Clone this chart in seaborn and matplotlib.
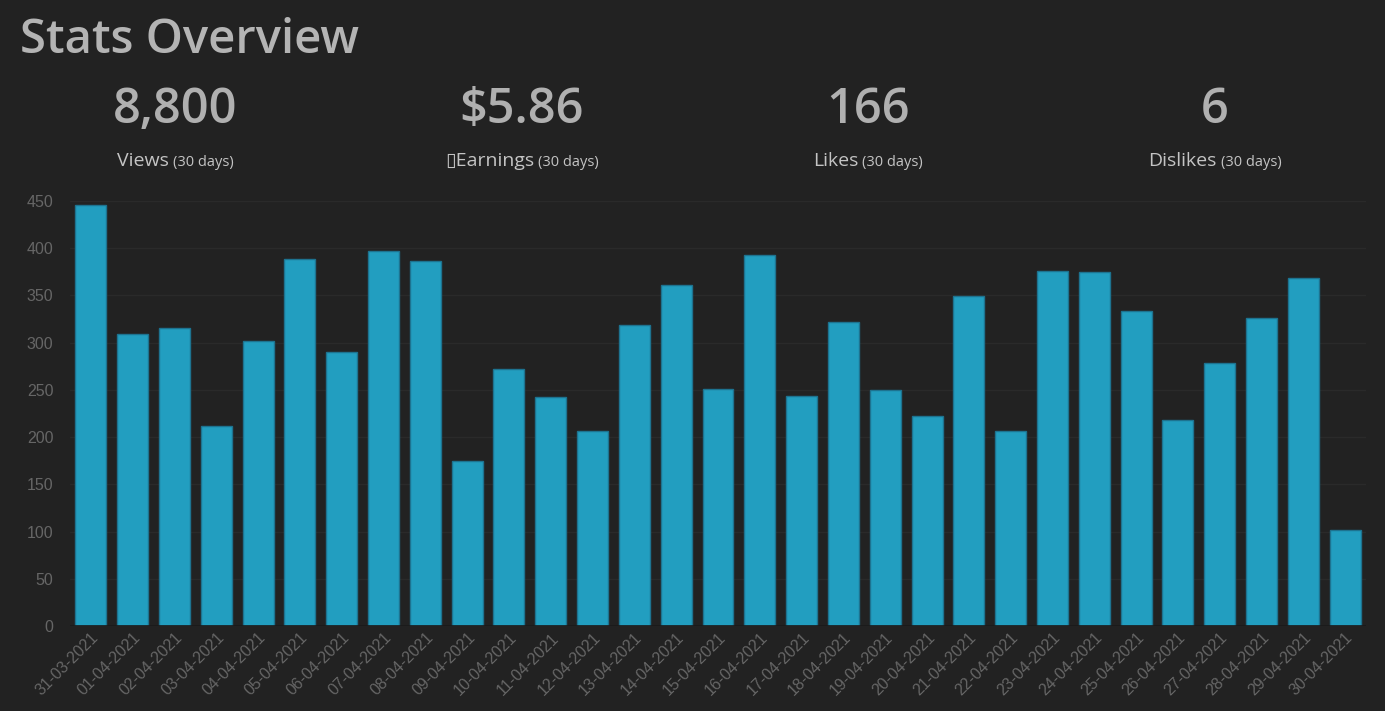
import matplotlib
matplotlib.use("Agg")
import matplotlib.pyplot as plt
import seaborn as sns
import pandas as pd

# chart data
dates = ["31-03-2021", "01-04-2021", "02-04-2021", "03-04-2021", "04-04-2021",
         "05-04-2021", "06-04-2021", "07-04-2021", "08-04-2021", "09-04-2021",
         "10-04-2021", "11-04-2021", "12-04-2021", "13-04-2021", "14-04-2021",
         "15-04-2021", "16-04-2021", "17-04-2021", "18-04-2021", "19-04-2021",
         "20-04-2021", "21-04-2021", "22-04-2021", "23-04-2021", "24-04-2021",
         "25-04-2021", "26-04-2021", "27-04-2021", "28-04-2021", "29-04-2021",
         "30-04-2021"]
views = [446, 309, 316, 212, 302, 389, 290, 397, 387, 175,
         272, 243, 207, 319, 361, 251, 393, 244, 322, 250,
         222, 349, 206, 376, 375, 334, 218, 279, 326, 368,
         102]
y_ticks = [0, 50, 100, 150, 200, 250, 300, 350, 400, 450]

stat_values = ["8,800", "$5.86", "166", "6"]
stat_names = ["Views", "\u25afEarnings", "Likes", "Dislikes"]
stat_period = "(30 days)"

W, H = 1385, 711
BG = "#222222"
BAR = "#229ec0"

sns.set_style("dark")
plt.rcParams["font.family"] = ["Liberation Sans", "DejaVu Sans"]

df = pd.DataFrame({"date": dates, "views": views})

fig = plt.figure(figsize=(W / 100, H / 100), dpi=100, facecolor=BG)
ax = fig.add_axes([70 / W, 1 - 626 / H, 1296 / W, 425 / H])
ax.set_facecolor(BG)

sns.barplot(data=df, x="date", y="views", color=BAR, saturation=1,
            width=0.74, edgecolor="#1d7390", linewidth=1, ax=ax, zorder=3)

ax.set_ylim(0, 450)
ax.set_yticks(y_ticks)
ax.set_xlim(-0.5, len(dates) - 0.5)
ax.grid(axis="y", color="#2a2a2a", linewidth=1, zorder=0)
ax.grid(axis="x", visible=False)
ax.axhline(0, color="#1a1a1a", linewidth=1.2, zorder=4)
for s in ax.spines.values():
    s.set_visible(False)
ax.set_xlabel("")
ax.set_ylabel("")
ax.tick_params(axis="y", colors="#666666", labelsize=11.5, length=0, pad=12)
ax.tick_params(axis="x", colors="#666666", labelsize=11.5, length=0, pad=3)
plt.setp(ax.get_xticklabels(), rotation=45, ha="right", rotation_mode="anchor")

# header
hfont = ["Open Sans", "DejaVu Sans"]
fig.text(20 / W, 1 - 53 / H, "Stats Overview", fontsize=34, color="#b4b4b4",
         fontweight="semibold", family=hfont, va="baseline", ha="left")

centers = [175, 522, 868, 1215]
pairs = []
for cx, val, name in zip(centers, stat_values, stat_names):
    fig.text(cx / W, 1 - 123 / H, val, fontsize=35, color="#b0b0b0",
             fontweight="semibold", family=hfont, va="baseline", ha="center")
    t1 = fig.text(0, 1 - 166 / H, name, fontsize=14, color="#c4c4c4",
                  family=hfont, va="baseline", ha="left")
    t2 = fig.text(0, 1 - 166 / H, stat_period, fontsize=10.5, color="#c4c4c4",
                  family=hfont, va="baseline", ha="left")
    pairs.append((cx, t1, t2))

fig.canvas.draw()
r = fig.canvas.get_renderer()
for cx, t1, t2 in pairs:
    w1 = t1.get_window_extent(r).width
    w2 = t2.get_window_extent(r).width
    start = cx - (w1 + 4 + w2) / 2
    t1.set_x(start / W)
    t2.set_x((start + w1 + 4) / W)

fig.savefig("out.png", dpi=100, facecolor=BG)
